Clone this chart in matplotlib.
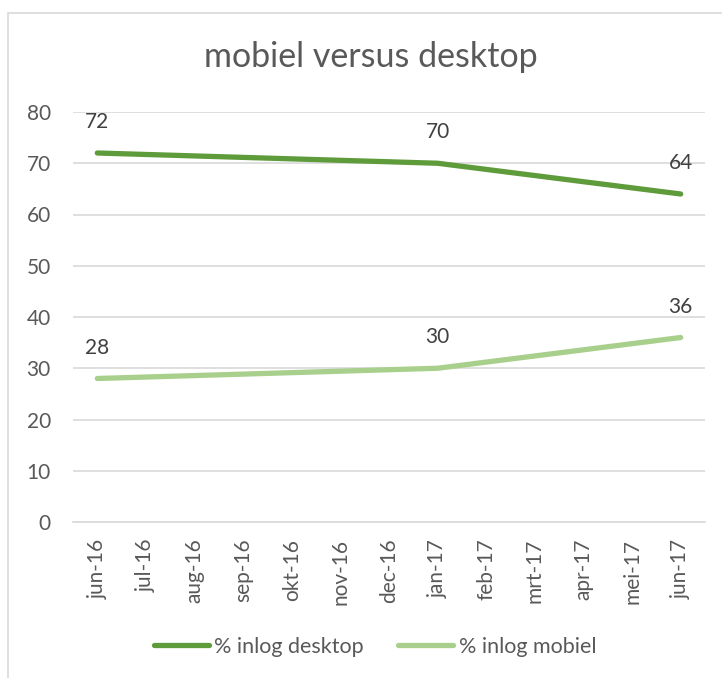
import matplotlib.pyplot as plt
from matplotlib.patches import Rectangle

months = ["jun-16", "jul-16", "aug-16", "sep-16", "okt-16", "nov-16", "dec-16",
          "jan-17", "feb-17", "mrt-17", "apr-17", "mei-17", "jun-17"]
point_idx = [0, 7, 12]
desktop = [72, 70, 64]
mobiel = [28, 30, 36]

plt.rcParams['font.family'] = ['Lato', 'DejaVu Sans']

fig = plt.figure(figsize=(7.22, 6.78), dpi=100)
fig.patches.append(Rectangle((8 / 722, -0.01), 1.0, 1 - 13 / 678 + 0.01,
                             transform=fig.transFigure, fill=False,
                             edgecolor="#D9D9D9", linewidth=1.2))
ax = fig.add_axes([73 / 722, 1 - 522 / 678, (705 - 73) / 722, (522 - 112) / 678])

c_desk = "#5E9B3A"
c_mob = "#A8CF8C"
ax.plot(point_idx, desktop, color=c_desk, linewidth=3.8, solid_capstyle="round",
        label="% inlog desktop")
ax.plot(point_idx, mobiel, color=c_mob, linewidth=3.8, solid_capstyle="round",
        label="% inlog mobiel")

for x, v in zip(point_idx, desktop):
    ax.annotate(str(v), (x, v), xytext=(0, 15), textcoords="offset points",
                ha="center", va="bottom", fontsize=15, color="#404040")
for x, v in zip(point_idx, mobiel):
    ax.annotate(str(v), (x, v), xytext=(0, 15), textcoords="offset points",
                ha="center", va="bottom", fontsize=15, color="#404040")

ax.set_xlim(-0.5, 12.5)
ax.set_ylim(0, 80)
ax.set_yticks(range(0, 81, 10))
ax.set_xticks(range(len(months)))
ax.set_xticklabels(months, rotation=90)
ax.yaxis.grid(True, color="#D9D9D9", linewidth=1.2)
ax.set_axisbelow(True)
for s in ["top", "right", "left"]:
    ax.spines[s].set_visible(False)
ax.spines["bottom"].set_color("#D9D9D9")
ax.spines["bottom"].set_linewidth(1.2)
ax.tick_params(length=0, labelsize=15, labelcolor="#595959", pad=12)
ax.tick_params(axis="y", pad=16)

fig.text(371 / 722, 1 - 57 / 678, "mobiel versus desktop", ha="center", va="center",
         fontsize=24.5, color="#595959")

fig.legend(loc="center", bbox_to_anchor=(375 / 722, 1 - 647 / 678), ncol=2,
           frameon=False, fontsize=15.5, labelcolor="#595959", handlelength=2.55,
           handletextpad=0.25, columnspacing=1.6)

fig.savefig("out.png", dpi=100)
